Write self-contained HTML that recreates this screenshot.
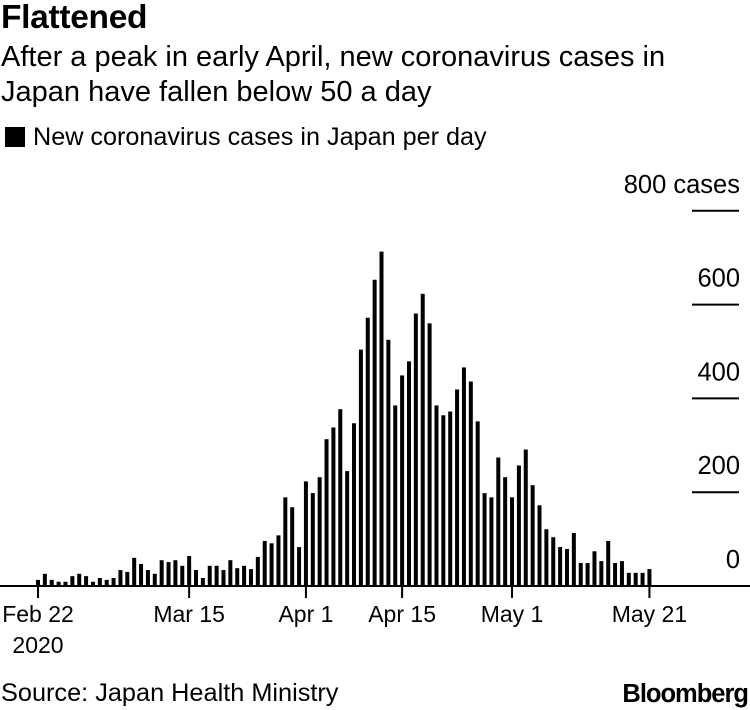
<!DOCTYPE html>
<html><head><meta charset="utf-8"><style>
body{margin:0;background:#fff;font-family:"Liberation Sans",sans-serif;color:#000}
#wrap{position:relative;width:750px;height:710px;overflow:hidden}
.t{position:absolute;white-space:nowrap}
</style></head><body>
<div id="wrap">
<div class="t" style="left:1px;top:-1px;font-size:33.5px;font-weight:bold;letter-spacing:-0.3px">Flattened</div>
<div class="t" style="left:1px;top:40px;font-size:29px;line-height:35px">After a peak in early April, new coronavirus cases in<br>Japan have fallen below 50 a day</div>
<div class="t" style="left:5px;top:123px;font-size:25.2px"><span style="display:inline-block;width:20px;height:20px;background:#000;vertical-align:-2px;margin-right:8px"></span>New coronavirus cases in Japan per day</div>
<svg id="chart" width="750" height="710" style="position:absolute;left:0;top:0" font-family="Liberation Sans, sans-serif"></svg>
<div class="t" style="left:1px;top:679px;font-size:25.3px">Source: Japan Health Ministry</div>
<div class="t" style="right:2px;top:680px;font-size:25.5px;font-weight:bold;letter-spacing:-1px">Bloomberg</div>
</div>
<script>
const values=[13,26,13,9,9,21,26,21,9,17,13,17,34,30,60,47,34,26,55,51,55,43,64,34,17,43,43,34,55,38,43,36,62,96,91,108,189,168,83,223,198,232,313,338,377,245,347,504,572,653,713,525,385,449,479,581,623,560,385,364,372,419,466,436,351,198,189,274,232,189,257,291,215,172,121,104,83,79,113,49,49,74,53,96,49,53,28,28,28,36];
const yTicks=[0,200,400,600,800];
const yTickLabels=["0","200","400","600","800 cases"];
const xTickIdx=[0,22,39,53,69,89];
const xTickLabels=["Feb 22","Mar 15","Apr 1","Apr 15","May 1","May 21"];
const NS="http://www.w3.org/2000/svg";
const svg=document.getElementById('chart');
const x0=38,dx=6.87,y0=586,k=0.469;
function xs(i){return x0+i*dx;}
function ys(v){return y0-v*k;}
function mk(tag,attrs){const e=document.createElementNS(NS,tag);for(const a in attrs)e.setAttribute(a,attrs[a]);svg.appendChild(e);return e;}
yTicks.forEach((v,i)=>{
  if(v>0){const l=mk('line',{x1:692,x2:739,y1:ys(v),y2:ys(v),stroke:'#000','stroke-width':2});
  
  }
  const t=mk('text',{x:740,y:ys(v)-18,'text-anchor':'end','font-size':25.5});
  t.textContent=yTickLabels[i];
  
  
});
values.forEach((v,i)=>{
  const r=mk('rect',{x:xs(i)-2,y:ys(v),width:4,height:y0-ys(v),fill:'#000'});
  
  
});
const ax=mk('line',{x1:0,x2:750,y1:y0,y2:y0,stroke:'#000','stroke-width':2});


xTickIdx.forEach((d,i)=>{
  const l=mk('line',{x1:xs(d),x2:xs(d),y1:y0,y2:y0+12,stroke:'#000','stroke-width':2});
  
  
  const t=mk('text',{x:xs(d),y:622,'text-anchor':'middle','font-size':23});
  t.textContent=xTickLabels[i];
  
  
});
const yr=mk('text',{x:xs(0),y:653,'text-anchor':'middle','font-size':23});
yr.textContent='2020';


</script>
</body></html>
